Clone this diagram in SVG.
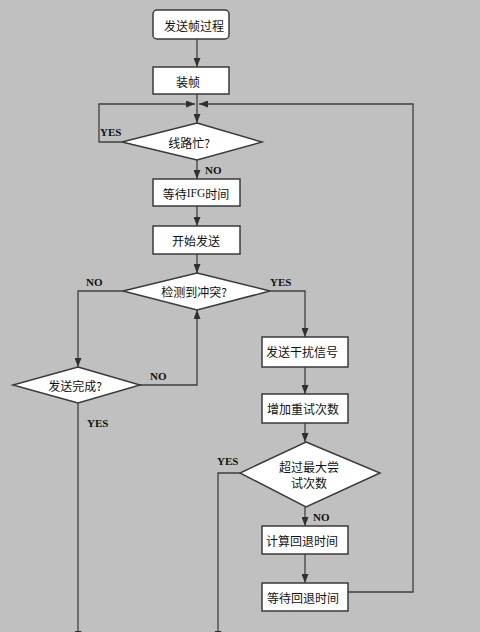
<svg xmlns="http://www.w3.org/2000/svg" width="480" height="632" viewBox="0 0 480 632">
<style>
.bg{fill:#c0c0c0}
.box{fill:#ffffff;stroke:#3a3a3a;stroke-width:1.5}
.dia{fill:#ffffff;stroke:#3a3a3a;stroke-width:1.5}
.cn{font-family:"Noto Sans CJK SC","Liberation Sans",sans-serif;font-size:12px;fill:#111;text-anchor:middle;dominant-baseline:central}
.lat{font-family:"Liberation Serif",serif;font-size:11.5px}
.lbl{font-family:"Liberation Serif",serif;font-size:11px;font-weight:bold;fill:#111}
.ln{fill:none;stroke:#404040;stroke-width:1.3}
.ah{fill:#303030}
</style>
<defs>
<marker id="arr" markerWidth="9" markerHeight="7" refX="9" refY="3.5" orient="auto" markerUnits="userSpaceOnUse">
<path class="ah" d="M0,0 L9,3.5 L0,7 z"/>
</marker>
</defs>
<rect class="bg" x="0" y="0" width="480" height="632"/>

<g id="connectors">
<path class="ln" d="M197,39 V67" marker-end="url(#arr)"/>
<path class="ln" d="M197,94 V123" marker-end="url(#arr)"/>
<path class="ln" d="M122,142 H99 V104 H195" marker-end="url(#arr)"/>
<path class="ln" d="M348,592 H413 V104 H199" marker-end="url(#arr)"/>
<path class="ln" d="M197,160 V179" marker-end="url(#arr)"/>
<path class="ln" d="M197,206 V226" marker-end="url(#arr)"/>
<path class="ln" d="M197,254 V273" marker-end="url(#arr)"/>
<path class="ln" d="M123,291 H78 V367" marker-end="url(#arr)"/>
<path class="ln" d="M270,291 H305 V337" marker-end="url(#arr)"/>
<path class="ln" d="M140,385 H197 V310" marker-end="url(#arr)"/>
<path class="ln" d="M78,403 V640" marker-end="url(#arr)"/>
<path class="ln" d="M305,367 V394" marker-end="url(#arr)"/>
<path class="ln" d="M305,423 V442" marker-end="url(#arr)"/>
<path class="ln" d="M240,473 H218 V640" marker-end="url(#arr)"/>
<path class="ln" d="M305,507 V526" marker-end="url(#arr)"/>
<path class="ln" d="M305,554 V583" marker-end="url(#arr)"/>
<text class="lbl" x="100" y="136">YES</text>
<text class="lbl" x="205" y="174">NO</text>
<text class="lbl" x="86" y="286">NO</text>
<text class="lbl" x="270" y="286">YES</text>
<text class="lbl" x="150" y="380">NO</text>
<text class="lbl" x="87" y="427">YES</text>
<text class="lbl" x="217" y="465">YES</text>
<text class="lbl" x="313" y="521">NO</text>
</g>

<g id="start">
<rect class="box" x="153" y="10" width="76" height="29" rx="4"/>
<text class="cn" x="194" y="25">发送帧过程</text>
</g>
<g id="frame">
<rect class="box" x="153" y="67" width="76" height="27"/>
<text class="cn" x="188" y="81">装帧</text>
</g>
<g id="busy">
<polygon class="dia" points="197,123 262,142 197,160 122,142"/>
<text class="cn" x="189" y="142">线路忙?</text>
</g>
<g id="ifg">
<rect class="box" x="153" y="179" width="87" height="27"/>
<text class="cn" x="196" y="193">等待<tspan class="lat">IFG</tspan>时间</text>
</g>
<g id="send">
<rect class="box" x="153" y="226" width="87" height="28"/>
<text class="cn" x="196" y="240">开始发送</text>
</g>
<g id="collide">
<polygon class="dia" points="197,273 270,291 197,310 123,291"/>
<text class="cn" x="194" y="291">检测到冲突?</text>
</g>
<g id="done">
<polygon class="dia" points="78,367 140,385 78,403 13,385"/>
<text class="cn" x="75" y="385">发送完成?</text>
</g>
<g id="jam">
<rect class="box" x="262" y="337" width="86" height="30"/>
<text class="cn" x="302" y="351">发送干扰信号</text>
</g>
<g id="retry">
<rect class="box" x="262" y="394" width="86" height="29"/>
<text class="cn" x="303" y="408">增加重试次数</text>
</g>
<g id="max">
<polygon class="dia" points="306,442 380,473 306,507 240,473"/>
<text class="cn" x="309" y="466">超过最大尝</text>
<text class="cn" x="309" y="482">试次数</text>
</g>
<g id="backoff">
<rect class="box" x="262" y="526" width="86" height="28"/>
<text class="cn" x="302" y="540">计算回退时间</text>
</g>
<g id="wait">
<rect class="box" x="262" y="583" width="86" height="28"/>
<text class="cn" x="303" y="597">等待回退时间</text>
</g>
</svg>
